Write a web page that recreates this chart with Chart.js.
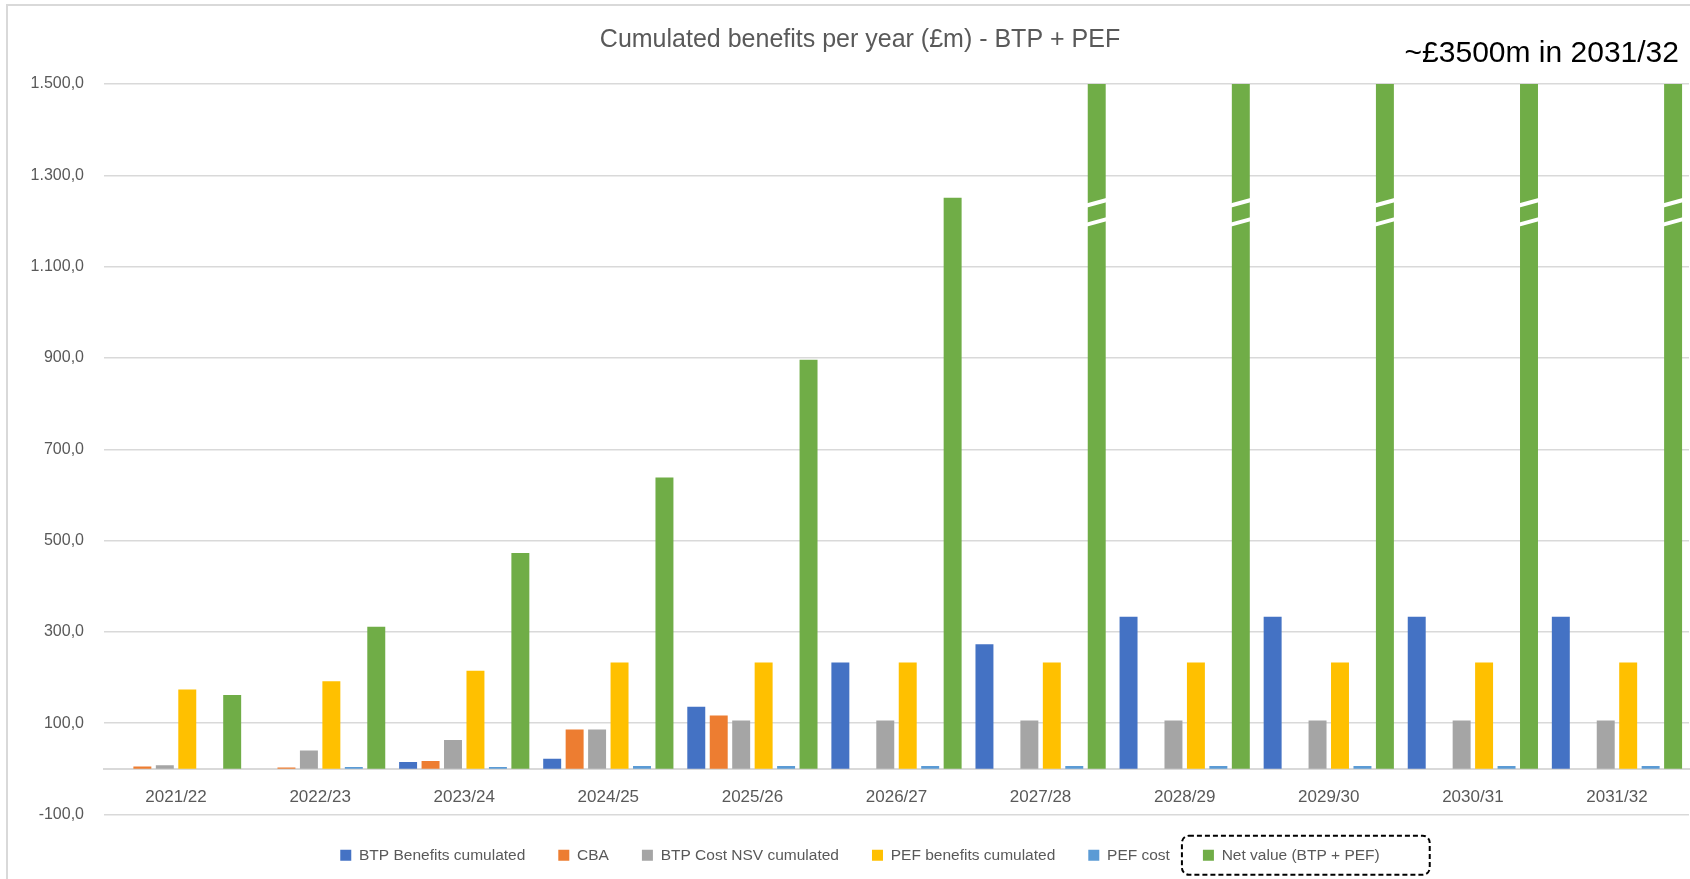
<!DOCTYPE html>
<html>
<head>
<meta charset="utf-8">
<script src="https://cdn.jsdelivr.net/npm/chart.js@4.4.1/dist/chart.umd.min.js"></script>
<style>
  html, body { margin: 0; padding: 0; background: #fff; overflow: hidden; }
  #wrap { position: relative; width: 1690px; height: 879px; overflow: hidden; }
  #marco { position: absolute; left: 6px; top: 4px; width: 2000px; height: 2000px; border-left: 2px solid #d9d9d9; border-top: 2px solid #d9d9d9; }
  #nota { position: absolute; right: 11px; top: 37px; font: 30px "Liberation Sans", Arial, sans-serif; line-height: 30px; color: #000; white-space: nowrap; }
  canvas { position: absolute; left: 0; top: 0; }
</style>
</head>
<body>
<div id="wrap">
  <div id="marco"></div>
  <canvas id="grafico" width="1690" height="879"></canvas>
  <div id="nota">~£3500m in 2031/32</div>
</div>
<script>
// datos (£m)
const anios = ["2021/22", "2022/23", "2023/24", "2024/25", "2025/26", "2026/27", "2027/28", "2028/29", "2029/30", "2030/31", "2031/32"];
const btpBeneficios = [0, 0, 15, 22, 136, 233, 273, 333, 333, 333, 333];
const cba = [5, 3, 17, 86, 117, 0, 0, 0, 0, 0, 0];
const btpCosto = [8, 40, 63, 86, 106, 106, 106, 106, 106, 106, 106];
const pefBeneficios = [174, 192, 215, 233, 233, 233, 233, 233, 233, 233, 233];
const pefCosto = [0, 4, 4, 6, 6, 6, 6, 6, 6, 6, 6];
const valorNeto = [162, 311, 473, 638, 896, 1251, 1620, 2000, 2450, 2950, 3500];
const ticksY = [-100, 100, 300, 500, 700, 900, 1100, 1300, 1500];

const fuente = "'Liberation Sans', Arial, sans-serif";
const gris = "#595959";
Chart.defaults.font.family = fuente;

function formato(v) {
  const s = Math.abs(v).toString().replace(/\B(?=(\d{3})+(?!\d))/g, ".");
  return (v < 0 ? "-" : "") + s + ",0";
}

// cortes blancos en las barras que se salen del eje
const cortes = {
  id: "cortes",
  afterDatasetsDraw(chart) {
    const meta = chart.getDatasetMeta(5);
    const y = chart.scales.y;
    const ctx = chart.ctx;
    meta.data.forEach((barra, i) => {
      if (valorNeto[i] <= y.max) return;
      const p = barra.getProps(["x", "width"], true);
      [1240, 1198].forEach((v) => {
        const yy = y.getPixelForValue(v);
        ctx.save();
        ctx.strokeStyle = "#fff";
        ctx.lineWidth = 4;
        ctx.beginPath();
        ctx.moveTo(p.x - p.width / 2 - 2, yy + 3);
        ctx.lineTo(p.x + p.width / 2 + 2, yy - 3);
        ctx.stroke();
        ctx.restore();
      });
    });
  }
};

// recuadro punteado alrededor de "Net value"
const recuadro = {
  id: "recuadro",
  afterDraw(chart) {
    const hb = chart.legend.legendHitBoxes[5];
    const ctx = chart.ctx;
    const cy = hb.top + hb.height / 2;
    ctx.save();
    ctx.setLineDash([5, 3]);
    ctx.lineWidth = 2;
    ctx.strokeStyle = "#000";
    ctx.beginPath();
    ctx.roundRect(hb.left - 21, cy - 19.5, hb.width + 71, 39, 7);
    ctx.stroke();
    ctx.restore();
  }
};

function serie(nombre, datos, color) {
  return {
    label: nombre,
    data: datos,
    backgroundColor: color,
    categoryPercentage: 0.935,
    barPercentage: 0.8,
    clip: 0
  };
}

new Chart(document.getElementById("grafico"), {
  type: "bar",
  data: {
    labels: anios,
    datasets: [
      serie("BTP Benefits cumulated", btpBeneficios, "#4472C4"),
      serie("CBA", cba, "#ED7D31"),
      serie("BTP Cost NSV cumulated", btpCosto, "#A5A5A5"),
      serie("PEF benefits cumulated", pefBeneficios, "#FFC000"),
      serie("PEF cost", pefCosto, "#5B9BD5"),
      serie("Net value (BTP + PEF)", valorNeto, "#70AD47")
    ]
  },
  plugins: [cortes, recuadro],
  options: {
    responsive: false,
    animation: false,
    layout: { padding: { left: 31, right: 1, top: 0, bottom: 6 } },
    plugins: {
      title: {
        display: true,
        text: "Cumulated benefits per year (£m) - BTP + PEF",
        color: gris,
        font: { size: 25, weight: "normal" },
        padding: { top: 25, bottom: 29 }
      },
      legend: {
        position: "bottom",
        labels: { boxWidth: 11, boxHeight: 11, padding: 33, color: gris, font: { size: 15.5 } }
      },
      tooltip: { enabled: false }
    },
    scales: {
      x: {
        position: { y: 0 },
        grid: { display: false },
        border: { color: "#d9d9d9", width: 2 },
        ticks: { color: gris, font: { size: 17 }, padding: 10, maxRotation: 0 }
      },
      y: {
        min: -100,
        max: 1500,
        afterBuildTicks: (eje) => { eje.ticks = ticksY.map((v) => ({ value: v })); },
        afterFit: (eje) => { eje.width = 73; },
        grid: { color: "#d9d9d9", lineWidth: 1.5, drawTicks: false },
        border: { display: false },
        ticks: { color: gris, font: { size: 16 }, padding: 20, callback: (v) => formato(v) }
      }
    }
  }
});
</script>
</body>
</html>
